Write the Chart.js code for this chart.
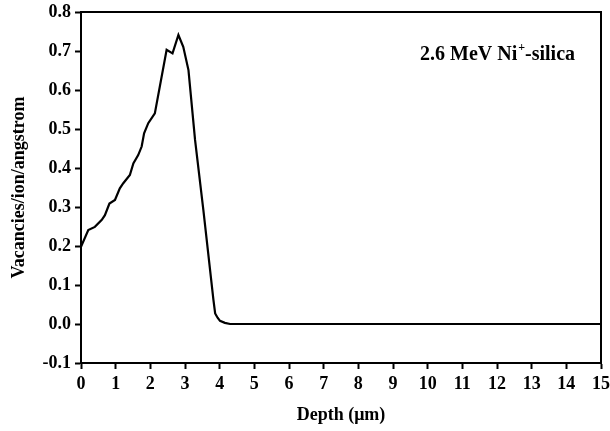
<!DOCTYPE html>
<html>
<head>
<meta charset="utf-8">
<script src="https://cdn.jsdelivr.net/npm/chart.js@4"></script>
<style>
  html, body { margin: 0; padding: 0; background: #fff; }
  #wrap { width: 610px; height: 431px; }
</style>
</head>
<body>
<div id="wrap"><canvas id="c" width="610" height="431"></canvas></div>
<script>
// dados (profundidade em µm, vacâncias/íon/angstrom)
const depth = [0, 0.21, 0.40, 0.60, 0.69, 0.82, 0.98, 1.12, 1.22, 1.41, 1.51, 1.65, 1.75, 1.82, 1.94, 2.13,
  2.47, 2.64, 2.81, 2.95, 3.10, 3.29, 3.53, 3.82, 3.87, 3.94, 4.01, 4.15, 4.30, 6, 8, 10, 12, 15];
const vacancies = [0.198, 0.241, 0.249, 0.267, 0.279, 0.309, 0.318, 0.348, 0.361, 0.382, 0.412, 0.433, 0.455, 0.489, 0.515, 0.540,
  0.703, 0.694, 0.741, 0.711, 0.651, 0.472, 0.292, 0.062, 0.027, 0.016, 0.008, 0.003, 0, 0, 0, 0, 0, 0];
const xTicks = [0, 1, 2, 3, 4, 5, 6, 7, 8, 9, 10, 11, 12, 13, 14, 15];
const yTicks = [-0.1, 0.0, 0.1, 0.2, 0.3, 0.4, 0.5, 0.6, 0.7, 0.8];
const label = ["2.6 MeV Ni", "+", "-silica"];

const serif = "'Liberation Serif', 'Times New Roman', serif";

// moldura + rótulo
const extras = {
  id: 'extras',
  afterDraw(c) {
    const { ctx, chartArea: a } = c;
    ctx.save();
    ctx.strokeStyle = '#000';
    ctx.lineWidth = 2;
    ctx.beginPath();
    ctx.moveTo(a.left, a.top); ctx.lineTo(a.right, a.top); ctx.lineTo(a.right, a.bottom);
    ctx.stroke();
    ctx.fillStyle = '#000';
    ctx.textBaseline = 'alphabetic';
    let x = 420, y = 60;
    ctx.font = 'bold 20px ' + serif;
    ctx.fillText(label[0], x, y); x += ctx.measureText(label[0]).width + 1;
    ctx.font = 'bold 12px ' + serif;
    ctx.fillText(label[1], x, y - 9); x += ctx.measureText(label[1]).width;
    ctx.font = 'bold 20px ' + serif;
    ctx.fillText(label[2], x, y);
    ctx.restore();
  }
};

new Chart(document.getElementById('c'), {
  type: 'line',
  data: {
    datasets: [{
      data: depth.map((d, i) => ({ x: d, y: vacancies[i] })),
      borderColor: '#000', borderWidth: 2.2, pointRadius: 0, tension: 0, fill: false
    }]
  },
  options: {
    responsive: false, animation: false,
    layout: { padding: { top: 12, right: 9, left: 9, bottom: 0 } },
    plugins: { legend: { display: false }, tooltip: { enabled: false } },
    scales: {
      x: {
        type: 'linear', min: 0, max: 15,
        afterBuildTicks: s => { s.ticks = xTicks.map(v => ({ value: v })); },
        afterFit: s => { s.height = 68; s.paddingLeft = 0; s.paddingRight = 0; },
        border: { display: true, color: '#000', width: 2 },
        grid: { drawOnChartArea: false, tickLength: 6, tickColor: '#000', tickWidth: 2 },
        ticks: { color: '#000', font: { family: serif, size: 18, weight: 'bold' }, padding: 5, maxRotation: 0 },
        title: { display: true, text: 'Depth (μm)', color: '#000', font: { family: serif, size: 18, weight: 'bold' }, padding: { top: 4, bottom: 5 } }
      },
      y: {
        min: -0.1, max: 0.8,
        afterBuildTicks: s => { s.ticks = yTicks.map(v => ({ value: v })); },
        afterFit: s => { s.width = 72; s.paddingTop = 0; s.paddingBottom = 0; },
        border: { display: true, color: '#000', width: 2 },
        grid: { drawOnChartArea: false, tickLength: 6, tickColor: '#000', tickWidth: 2 },
        ticks: { color: '#000', font: { family: serif, size: 18, weight: 'bold' }, padding: 4, callback: v => v.toFixed(1) },
        title: { display: true, text: 'Vacancies/ion/angstrom', color: '#000', font: { family: serif, size: 18, weight: 'bold' }, padding: 0 }
      }
    }
  },
  plugins: [extras]
});
</script>
</body>
</html>
